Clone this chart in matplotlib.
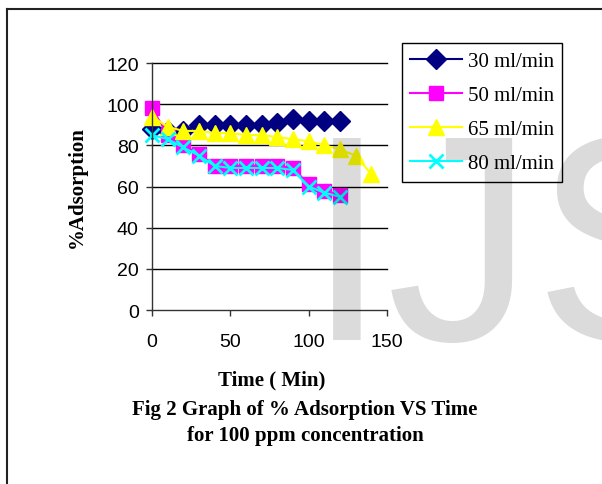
import matplotlib.pyplot as plt
from matplotlib.lines import Line2D

# data
time_a = [0, 10, 20, 30, 40, 50, 60, 70, 80, 90, 100, 110, 120]
time_b = [0, 10, 20, 30, 40, 50, 60, 70, 80, 90, 100, 110, 120, 130, 140]
ads_30 = [88, 87, 87, 90, 90, 90, 90, 90, 91, 93, 92, 92, 92]
ads_50 = [98, 85, 80, 76, 70, 70, 70, 70, 70, 69, 61, 58, 56]
ads_65 = [94, 89, 87, 87, 86, 86, 85, 85, 84, 83, 82, 80, 78, 75, 66]
ads_80 = [85, 83, 79, 75, 70, 69, 69, 69, 69, 68, 60, 57, 55]

labels = ["30 ml/min", "50 ml/min", "65 ml/min", "80 ml/min"]
y_ticks = [0, 20, 40, 60, 80, 100, 120]
x_ticks = [0, 50, 100, 150]

W, H = 602, 485
fig = plt.figure(figsize=(W / 100, H / 100), dpi=100)
fig.patch.set_facecolor("white")

# axes box in pixel terms: x 152..387, y 64..311
ax = fig.add_axes([152 / W, 1 - 311 / H, 235 / W, 247 / H])

ax.plot(time_a, ads_30, color="#000080", lw=1.5, marker="D", ms=10,
        mec="#000080", label=labels[0], clip_on=False)
ax.plot(time_a, ads_50, color="#FF00FF", lw=1.5, marker="s", ms=10.5,
        mec="#FF00FF", label=labels[1], clip_on=False)
ax.plot(time_b, ads_65, color="#FFFF00", lw=1.5, marker="^", ms=11.5,
        mec="#FFFF00", label=labels[2], clip_on=False)
ax.plot(time_a, ads_80, color="#00FFFF", lw=1.5, marker="x", ms=10,
        mew=2, label=labels[3], clip_on=False)

ax.set_xlim(0, 150)
ax.set_ylim(0, 120)
ax.set_xticks(x_ticks)
ax.set_yticks(y_ticks)
for yv in y_ticks[1:]:
    ax.axhline(yv, color="black", lw=1, zorder=0.5, clip_on=False)

for s in ["top", "right"]:
    ax.spines[s].set_visible(False)
for s in ["left", "bottom"]:
    ax.spines[s].set_color("#333333")
    ax.spines[s].set_linewidth(1)

ax.tick_params(direction="out", length=4.5, width=1, color="#333333")
ax.tick_params(axis="y", pad=5)
ax.tick_params(axis="x", pad=12)
for t in ax.get_xticklabels() + ax.get_yticklabels():
    t.set_fontfamily("Liberation Sans")
    t.set_fontsize(14)

serif_bold = dict(family="Liberation Serif", weight="bold", size=15)
ax.set_xlabel("Time ( Min)", va="center", **serif_bold)
ax.xaxis.set_label_coords((272 - 152) / 235, (311 - 380) / 247)
ax.set_ylabel("%Adsorption", va="center", **serif_bold)
ax.yaxis.set_label_coords((77 - 152) / 235, (311 - 187) / 247)

leg = ax.legend(loc="upper left", bbox_to_anchor=(402 / W, 1 - 44 / H),
                bbox_transform=fig.transFigure, borderaxespad=0,
                prop=dict(family="Liberation Serif", size=15),
                fancybox=False, framealpha=1, edgecolor="black",
                handlelength=2.5, handletextpad=0.25, labelspacing=0.7,
                borderpad=0.4)
leg.get_frame().set_linewidth(1)

fig.text(305 / W, 1 - 410 / H, "Fig 2 Graph of % Adsorption VS Time",
         ha="center", va="center", **serif_bold)
fig.text(305 / W, 1 - 436 / H, "for 100 ppm concentration",
         ha="center", va="center", **serif_bold)

# page frame (left and top edges only)
fig.add_artist(Line2D([7 / W, 7 / W], [0, 1 - 10 / H], color="#222222", lw=1.5))
fig.add_artist(Line2D([7 / W, 1], [1 - 10 / H, 1 - 10 / H], color="#222222", lw=1.5))

# watermark drawn over the chart
fig.text(306 / W, 1 - 340 / H, "IJS", family="Liberation Sans", size=212,
         color="black", alpha=0.14, ha="left", va="baseline", zorder=10)

fig.savefig("out.png", dpi=100)
